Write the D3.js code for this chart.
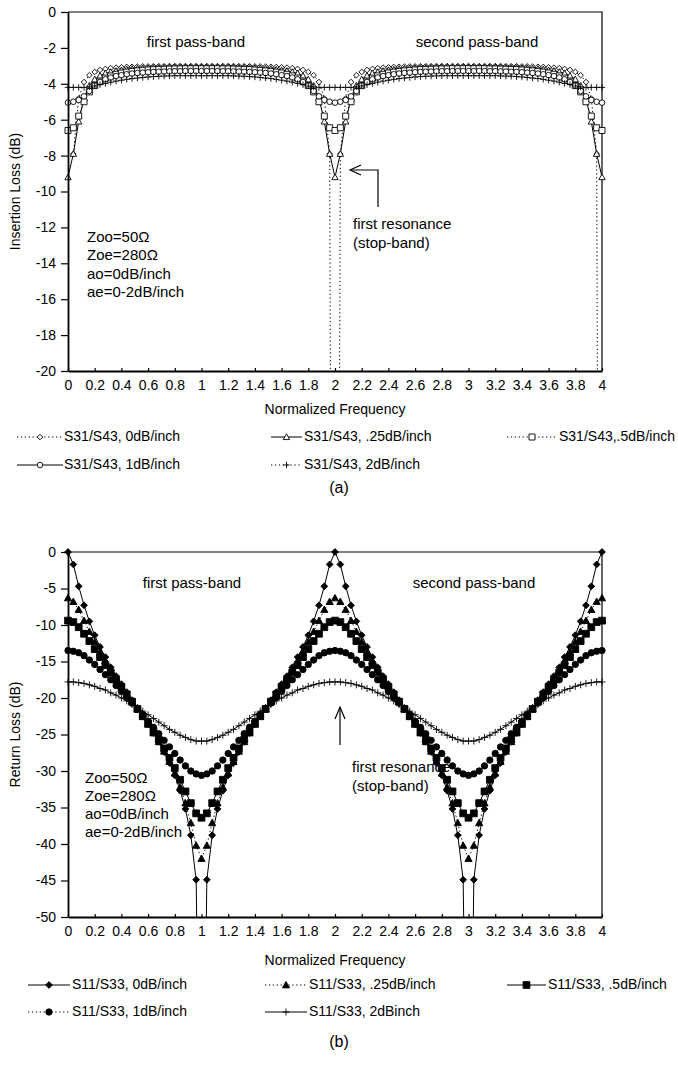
<!DOCTYPE html>
<html><head><meta charset="utf-8">
<script src="https://cdn.jsdelivr.net/npm/d3@7"></script>
<style>
body{margin:0;background:#fff}
svg{display:block}
text{font-family:"Liberation Sans",Arial,Helvetica,sans-serif;fill:#000}
</style>
</head><body>
<svg id="c" width="678" height="1075"></svg>
<script>
// ---------------- DATA ----------------
const freq = d3.range(0, 101).map(i => +(i * 0.04).toFixed(2)); // category axis 0 .. 4 step 0.04
const xTicks = [0,0.2,0.4,0.6,0.8,1,1.2,1.4,1.6,1.8,2,2.2,2.4,2.6,2.8,3,3.2,3.4,3.6,3.8,4];
const ilTicks = [0,-2,-4,-6,-8,-10,-12,-14,-16,-18,-20];
const rlTicks = [0,-5,-10,-15,-20,-25,-30,-35,-40,-45,-50];

const ilNames = ["S31/S43, 0dB/inch","S31/S43, .25dB/inch","S31/S43,.5dB/inch","S31/S43, 1dB/inch","S31/S43, 2dB/inch"];
const rlNames = ["S11/S33, 0dB/inch","S11/S33, .25dB/inch","S11/S33, .5dB/inch","S11/S33, 1dB/inch","S11/S33, 2dBinch"];

// Insertion loss (dB), -100 = off-scale (total reflection), null = no value
const il0 = [null,-7.91,-4.82,-3.90,-3.52,-3.34,-3.23,-3.17,-3.13,-3.10,-3.08,-3.06,-3.05,-3.04,-3.03,-3.03,-3.02,-3.02,-3.02,-3.01,-3.01,-3.01,-3.01,-3.01,-3.01,-3.01,
 -3.01,-3.01,-3.01,-3.01,-3.01,-3.01,-3.02,-3.02,-3.02,-3.03,-3.03,-3.04,-3.05,-3.06,-3.08,-3.10,-3.13,-3.17,-3.23,-3.34,-3.52,-3.90,-4.82,-7.91,-100,
 -7.91,-4.82,-3.90,-3.52,-3.34,-3.23,-3.17,-3.13,-3.10,-3.08,-3.06,-3.05,-3.04,-3.03,-3.03,-3.02,-3.02,-3.02,-3.01,-3.01,-3.01,-3.01,-3.01,-3.01,-3.01,
 -3.01,-3.01,-3.01,-3.01,-3.01,-3.01,-3.02,-3.02,-3.02,-3.03,-3.03,-3.04,-3.05,-3.06,-3.08,-3.10,-3.13,-3.17,-3.23,-3.34,-3.52,-3.90,-4.82,-7.91,-100];
const il1 = [-9.2,-7.9,-6.1,-4.8,-4.1,-3.75,-3.55,-3.42,-3.34,-3.28,-3.24,-3.2,-3.17,-3.15,-3.13,-3.12,-3.11,-3.1,-3.09,-3.09,-3.08,-3.08,-3.08,-3.08,-3.08,-3.08,
 -3.08,-3.08,-3.08,-3.08,-3.08,-3.09,-3.09,-3.1,-3.11,-3.12,-3.13,-3.15,-3.17,-3.2,-3.24,-3.28,-3.34,-3.42,-3.55,-3.75,-4.1,-4.8,-6.1,-7.9,-9.2,
 -7.9,-6.1,-4.8,-4.1,-3.75,-3.55,-3.42,-3.34,-3.28,-3.24,-3.2,-3.17,-3.15,-3.13,-3.12,-3.11,-3.1,-3.09,-3.09,-3.08,-3.08,-3.08,-3.08,-3.08,-3.08,
 -3.08,-3.08,-3.08,-3.08,-3.08,-3.09,-3.09,-3.1,-3.11,-3.12,-3.13,-3.15,-3.17,-3.2,-3.24,-3.28,-3.34,-3.42,-3.55,-3.75,-4.1,-4.8,-6.1,-7.9,-9.2];
const il2 = [-6.6,-6.45,-5.8,-5.0,-4.45,-4.1,-3.85,-3.68,-3.56,-3.47,-3.4,-3.35,-3.31,-3.28,-3.25,-3.23,-3.21,-3.2,-3.19,-3.18,-3.17,-3.17,-3.16,-3.16,-3.16,-3.16,
 -3.16,-3.16,-3.16,-3.17,-3.17,-3.18,-3.19,-3.2,-3.21,-3.23,-3.25,-3.28,-3.31,-3.35,-3.4,-3.47,-3.56,-3.68,-3.85,-4.1,-4.45,-5.0,-5.8,-6.45,-6.6,
 -6.45,-5.8,-5.0,-4.45,-4.1,-3.85,-3.68,-3.56,-3.47,-3.4,-3.35,-3.31,-3.28,-3.25,-3.23,-3.21,-3.2,-3.19,-3.18,-3.17,-3.17,-3.16,-3.16,-3.16,-3.16,
 -3.16,-3.16,-3.16,-3.17,-3.17,-3.18,-3.19,-3.2,-3.21,-3.23,-3.25,-3.28,-3.31,-3.35,-3.4,-3.47,-3.56,-3.68,-3.85,-4.1,-4.45,-5.0,-5.8,-6.45,-6.6];
const il3 = [-5.05,-5.0,-4.9,-4.7,-4.4,-4.1,-3.9,-3.75,-3.65,-3.57,-3.52,-3.47,-3.43,-3.4,-3.38,-3.36,-3.34,-3.33,-3.32,-3.31,-3.3,-3.3,-3.29,-3.29,-3.29,-3.29,
 -3.29,-3.29,-3.29,-3.3,-3.3,-3.31,-3.32,-3.33,-3.34,-3.36,-3.38,-3.4,-3.43,-3.47,-3.52,-3.57,-3.65,-3.75,-3.9,-4.1,-4.4,-4.7,-4.9,-5.0,-5.05,
 -5.0,-4.9,-4.7,-4.4,-4.1,-3.9,-3.75,-3.65,-3.57,-3.52,-3.47,-3.43,-3.4,-3.38,-3.36,-3.34,-3.33,-3.32,-3.31,-3.3,-3.3,-3.29,-3.29,-3.29,-3.29,
 -3.29,-3.29,-3.29,-3.3,-3.3,-3.31,-3.32,-3.33,-3.34,-3.36,-3.38,-3.4,-3.43,-3.47,-3.52,-3.57,-3.65,-3.75,-3.9,-4.1,-4.4,-4.7,-4.9,-5.0,-5.05];
const il4 = [-4.2,-4.2,-4.2,-4.2,-4.17,-4.12,-4.05,-3.98,-3.91,-3.85,-3.8,-3.75,-3.71,-3.68,-3.65,-3.62,-3.6,-3.58,-3.57,-3.56,-3.55,-3.55,-3.55,-3.55,-3.55,-3.55,
 -3.55,-3.55,-3.55,-3.55,-3.55,-3.56,-3.57,-3.58,-3.6,-3.62,-3.65,-3.68,-3.71,-3.75,-3.8,-3.85,-3.91,-3.98,-4.05,-4.12,-4.17,-4.2,-4.2,-4.2,-4.2,
 -4.2,-4.2,-4.2,-4.17,-4.12,-4.05,-3.98,-3.91,-3.85,-3.8,-3.75,-3.71,-3.68,-3.65,-3.62,-3.6,-3.58,-3.57,-3.56,-3.55,-3.55,-3.55,-3.55,-3.55,-3.55,
 -3.55,-3.55,-3.55,-3.55,-3.55,-3.56,-3.57,-3.58,-3.6,-3.62,-3.65,-3.68,-3.71,-3.75,-3.8,-3.85,-3.91,-3.98,-4.05,-4.12,-4.17,-4.2,-4.2,-4.2,-4.2];

// Return loss (dB), -100 = perfect match (off-scale)
const rl0 = [0,-1.7,-4.7,-7.3,-9.5,-11.4,-13.0,-14.4,-15.8,-17.0,-18.1,-19.2,-20.3,-21.4,-22.5,-23.6,-24.8,-26.0,-27.4,-28.9,-30.6,-32.7,-35.2,-38.8,-44.9,-100,
 -44.9,-38.8,-35.2,-32.7,-30.6,-28.9,-27.4,-26.0,-24.8,-23.6,-22.5,-21.4,-20.3,-19.2,-18.1,-17.0,-15.8,-14.4,-13.0,-11.4,-9.5,-7.3,-4.7,-1.7,0,
 -1.7,-4.7,-7.3,-9.5,-11.4,-13.0,-14.4,-15.8,-17.0,-18.1,-19.2,-20.3,-21.4,-22.5,-23.6,-24.8,-26.0,-27.4,-28.9,-30.6,-32.7,-35.2,-38.8,-44.9,-100,
 -44.9,-38.8,-35.2,-32.7,-30.6,-28.9,-27.4,-26.0,-24.8,-23.6,-22.5,-21.4,-20.3,-19.2,-18.1,-17.0,-15.8,-14.4,-13.0,-11.4,-9.5,-7.3,-4.7,-1.7,0];
const rl1 = [-6.3,-6.8,-7.9,-9.4,-10.9,-12.3,-13.7,-14.9,-16.1,-17.2,-18.3,-19.4,-20.4,-21.5,-22.5,-23.6,-24.8,-26.0,-27.3,-28.7,-30.3,-32.2,-34.4,-37.1,-40.2,-42.0,
 -40.2,-37.1,-34.4,-32.2,-30.3,-28.7,-27.3,-26.0,-24.8,-23.6,-22.5,-21.5,-20.4,-19.4,-18.3,-17.2,-16.1,-14.9,-13.7,-12.3,-10.9,-9.4,-7.9,-6.8,-6.3,
 -6.8,-7.9,-9.4,-10.9,-12.3,-13.7,-14.9,-16.1,-17.2,-18.3,-19.4,-20.4,-21.5,-22.5,-23.6,-24.8,-26.0,-27.3,-28.7,-30.3,-32.2,-34.4,-37.1,-40.2,-42.0,
 -40.2,-37.1,-34.4,-32.2,-30.3,-28.7,-27.3,-26.0,-24.8,-23.6,-22.5,-21.5,-20.4,-19.4,-18.3,-17.2,-16.1,-14.9,-13.7,-12.3,-10.9,-9.4,-7.9,-6.8,-6.3];
const rl2 = [-9.4,-9.6,-10.3,-11.2,-12.2,-13.3,-14.4,-15.5,-16.5,-17.5,-18.5,-19.5,-20.5,-21.5,-22.5,-23.5,-24.6,-25.7,-26.9,-28.2,-29.6,-31.2,-32.8,-34.4,-35.8,-36.4,
 -35.8,-34.4,-32.8,-31.2,-29.6,-28.2,-26.9,-25.7,-24.6,-23.5,-22.5,-21.5,-20.5,-19.5,-18.5,-17.5,-16.5,-15.5,-14.4,-13.3,-12.2,-11.2,-10.3,-9.6,-9.4,
 -9.6,-10.3,-11.2,-12.2,-13.3,-14.4,-15.5,-16.5,-17.5,-18.5,-19.5,-20.5,-21.5,-22.5,-23.5,-24.6,-25.7,-26.9,-28.2,-29.6,-31.2,-32.8,-34.4,-35.8,-36.4,
 -35.8,-34.4,-32.8,-31.2,-29.6,-28.2,-26.9,-25.7,-24.6,-23.5,-22.5,-21.5,-20.5,-19.5,-18.5,-17.5,-16.5,-15.5,-14.4,-13.3,-12.2,-11.2,-10.3,-9.6,-9.4];
const rl3 = [-13.5,-13.6,-13.8,-14.2,-14.8,-15.4,-16.1,-16.8,-17.5,-18.3,-19.1,-19.9,-20.7,-21.5,-22.3,-23.2,-24.0,-24.9,-25.8,-26.7,-27.6,-28.5,-29.3,-30.0,-30.4,-30.6,
 -30.4,-30.0,-29.3,-28.5,-27.6,-26.7,-25.8,-24.9,-24.0,-23.2,-22.3,-21.5,-20.7,-19.9,-19.1,-18.3,-17.5,-16.8,-16.1,-15.4,-14.8,-14.2,-13.8,-13.6,-13.5,
 -13.6,-13.8,-14.2,-14.8,-15.4,-16.1,-16.8,-17.5,-18.3,-19.1,-19.9,-20.7,-21.5,-22.3,-23.2,-24.0,-24.9,-25.8,-26.7,-27.6,-28.5,-29.3,-30.0,-30.4,-30.6,
 -30.4,-30.0,-29.3,-28.5,-27.6,-26.7,-25.8,-24.9,-24.0,-23.2,-22.3,-21.5,-20.7,-19.9,-19.1,-18.3,-17.5,-16.8,-16.1,-15.4,-14.8,-14.2,-13.8,-13.6,-13.5];
const rl4 = [-17.8,-17.8,-17.9,-18.0,-18.2,-18.4,-18.7,-18.9,-19.3,-19.6,-20.0,-20.4,-20.9,-21.3,-21.8,-22.3,-22.8,-23.3,-23.8,-24.3,-24.7,-25.1,-25.4,-25.7,-25.9,-25.9,
 -25.9,-25.7,-25.4,-25.1,-24.7,-24.3,-23.8,-23.3,-22.8,-22.3,-21.8,-21.3,-20.9,-20.4,-20.0,-19.6,-19.3,-18.9,-18.7,-18.4,-18.2,-18.0,-17.9,-17.8,-17.8,
 -17.8,-17.9,-18.0,-18.2,-18.4,-18.7,-18.9,-19.3,-19.6,-20.0,-20.4,-20.9,-21.3,-21.8,-22.3,-22.8,-23.3,-23.8,-24.3,-24.7,-25.1,-25.4,-25.7,-25.9,-25.9,
 -25.9,-25.7,-25.4,-25.1,-24.7,-24.3,-23.8,-23.3,-22.8,-22.3,-21.8,-21.3,-20.9,-20.4,-20.0,-19.6,-19.3,-18.9,-18.7,-18.4,-18.2,-18.0,-17.9,-17.8,-17.8];

// ---------------- DRAWING ----------------
const svg = d3.select('#c');
const defs = svg.append('defs');

function sym(type, s){
  switch(type){
    case 'diamond': return `M0,${-s}L${s},0L0,${s}L${-s},0Z`;
    case 'triangle': return `M0,${-s}L${s},${s*0.8}L${-s},${s*0.8}Z`;
    case 'square': return `M${-s},${-s}H${s}V${s}H${-s}Z`;
    case 'circle': return `M${s},0A${s},${s} 0 1,1 ${-s},0A${s},${s} 0 1,1 ${s},0Z`;
    case 'plus': return `M${-s},0H${s}M0,${-s}V${s}`;
  }
}
const DOT = '1.3,2.6';

function chart(cfg){
  const x = d3.scaleLinear().domain([0,4]).range([68,602]);
  const y = d3.scaleLinear().domain([cfg.yMin,0]).range([cfg.bottom,cfg.top]);
  const g = svg.append('g');
  const cid = 'clip'+cfg.key;
  defs.append('clipPath').attr('id',cid).append('rect')
    .attr('x',55).attr('y',cfg.top-10).attr('width',560).attr('height',cfg.bottom-cfg.top+10);

  // annotations (under the data)
  cfg.notes.forEach(n=>{
    g.append('text').attr('x',n.x).attr('y',n.y).attr('font-size',n.fs||15)
      .attr('text-anchor',n.anchor||'start').attr('dominant-baseline','middle').text(n.t);
  });
  cfg.arrows.forEach(a=>{
    g.append('path').attr('d',a).attr('fill','none').attr('stroke','#000').attr('stroke-width',1.2);
  });

  // frame
  g.append('path').attr('d',`M${x(0)},${y(0)}H${x(4)}V${y(cfg.yMin)}`).attr('fill','none').attr('stroke','#000').attr('stroke-width',1.2);

  // series
  const lineGen = d3.line().defined(d=>d[1]!==null).x(d=>x(d[0])).y(d=>y(d[1]));
  cfg.series.forEach(s=>{
    const pts = freq.map((f,i)=>[f,s.values[i]]);
    const sg = g.append('g').attr('clip-path',`url(#${cid})`);
    sg.append('path').attr('d',lineGen(pts)).attr('fill','none').attr('stroke','#000')
      .attr('stroke-width',s.lw||1).attr('stroke-dasharray',s.dash?DOT:null);
    sg.selectAll('path.m').data(pts.filter(d=>d[1]!==null)).join('path').attr('class','m')
      .attr('transform',d=>`translate(${x(d[0])},${y(d[1])})`)
      .attr('d',sym(s.marker,s.size)).attr('fill',s.marker==='plus'?'none':s.fill)
      .attr('stroke','#000').attr('stroke-width',s.sw||0.9);
  });

  // axes
  const ax = g.append('g').attr('transform',`translate(0,${y(cfg.yMin)})`)
    .call(d3.axisBottom(x).tickValues(xTicks).tickSizeInner(-3).tickSizeOuter(0).tickPadding(9).tickFormat(d=>String(d)));
  const ay = g.append('g').attr('transform',`translate(${x(0)},0)`)
    .call(d3.axisLeft(y).tickValues(cfg.yTicks).tickSizeInner(7).tickSizeOuter(0).tickPadding(5).tickFormat(d=>String(d)));
  [ax,ay].forEach(a=>{
    a.select('.domain').attr('stroke','#000').attr('stroke-width',1.8);
    a.selectAll('.tick line').attr('stroke','#000').attr('stroke-width',1.2);
    a.selectAll('.tick text').attr('font-size',14).attr('font-family','"Liberation Sans",Arial,sans-serif').attr('fill','#000');
  });

  // axis titles
  g.append('text').attr('x',335).attr('y',cfg.xTitleY).attr('text-anchor','middle').attr('dominant-baseline','middle')
    .attr('font-size',14).text('Normalized Frequency');
  g.append('text').attr('transform',`translate(16,${(y(0)+y(cfg.yMin))/2}) rotate(-90)`).attr('text-anchor','middle')
    .attr('dominant-baseline','middle').attr('font-size',14).text(cfg.yTitle);

  // legend
  cfg.series.forEach((s,i)=>{
    const L = cfg.legend[i];
    const lg = g.append('g');
    lg.append('path').attr('d',`M${L.x0},${L.y}H${L.x1}`).attr('stroke','#000').attr('stroke-width',s.lw||1)
      .attr('stroke-dasharray',s.dash?DOT:null);
    lg.append('path').attr('transform',`translate(${(L.x0+L.x1)/2},${L.y})`).attr('d',sym(s.marker,s.size))
      .attr('fill',s.marker==='plus'?'none':s.fill).attr('stroke','#000').attr('stroke-width',s.sw||0.9);
    lg.append('text').attr('x',L.tx).attr('y',L.y).attr('dominant-baseline','middle').attr('font-size',14).text(cfg.names[i]);
  });

  // caption
  g.append('text').attr('x',339).attr('y',cfg.capY).attr('text-anchor','middle').attr('dominant-baseline','middle')
    .attr('font-size',16).attr('font-family','"Liberation Serif","Times New Roman",serif').text(cfg.caption);
}

// Chart (a): insertion loss
chart({
  key:'a', top:12, bottom:371, yMin:-20, yTicks:ilTicks, yTitle:'Insertion Loss (dB)', xTitleY:410, capY:489, caption:'(a)',
  names: ilNames,
  series:[
    {values:il0, marker:'diamond', size:2.8, fill:'#fff', dash:true},
    {values:il1, marker:'triangle', size:3.2, fill:'#fff', dash:false},
    {values:il2, marker:'square', size:3.0, fill:'#fff', dash:true},
    {values:il3, marker:'circle', size:2.8, fill:'#fff', dash:false},
    {values:il4, marker:'plus', size:3.2, fill:'none', dash:true}
  ],
  legend:[
    {x0:17,x1:63,y:437,tx:64},{x0:271,x1:302,y:437,tx:304},{x0:507,x1:557,y:437,tx:559},
    {x0:17,x1:63,y:465,tx:64},{x0:271,x1:302,y:465,tx:304}
  ],
  notes:[
    {x:196,y:43,t:'first pass-band',anchor:'middle'},
    {x:477,y:43,t:'second pass-band',anchor:'middle'},
    {x:353,y:225,t:'first resonance'},
    {x:353,y:244,t:'(stop-band)'},
    {x:87,y:238,t:'Zoo=50Ω'},{x:87,y:256,t:'Zoe=280Ω'},{x:87,y:275,t:'ao=0dB/inch'},{x:87,y:293,t:'ae=0-2dB/inch'}
  ],
  arrows:['M378,207V170H351','M361,165L350,170L361,175']
});

// Chart (b): return loss
chart({
  key:'b', top:552, bottom:917, yMin:-50, yTicks:rlTicks, yTitle:'Return Loss (dB)', xTitleY:961, capY:1043, caption:'(b)',
  names: rlNames,
  series:[
    {values:rl0, marker:'diamond', size:3.4, fill:'#000', dash:false},
    {values:rl1, marker:'triangle', size:3.6, fill:'#000', dash:true},
    {values:rl2, marker:'square', size:3.4, fill:'#000', dash:false},
    {values:rl3, marker:'circle', size:3.2, fill:'#000', dash:true},
    {values:rl4, marker:'plus', size:3.5, fill:'none', dash:false}
  ],
  legend:[
    {x0:28,x1:70,y:985,tx:72},{x0:265,x1:307,y:985,tx:309},{x0:507,x1:546,y:985,tx:548},
    {x0:28,x1:70,y:1012,tx:72},{x0:265,x1:307,y:1012,tx:309}
  ],
  notes:[
    {x:192,y:584,t:'first pass-band',anchor:'middle'},
    {x:474,y:584,t:'second pass-band',anchor:'middle'},
    {x:352,y:768,t:'first resonance'},
    {x:352,y:787,t:'(stop-band)'},
    {x:85,y:779,t:'Zoo=50Ω'},{x:85,y:797,t:'Zoe=280Ω'},{x:85,y:815,t:'ao=0dB/inch'},{x:85,y:833,t:'ae=0-2dB/inch'}
  ],
  arrows:['M340,745V708','M335,719L340,707L345,719']
});
</script>
</body></html>
